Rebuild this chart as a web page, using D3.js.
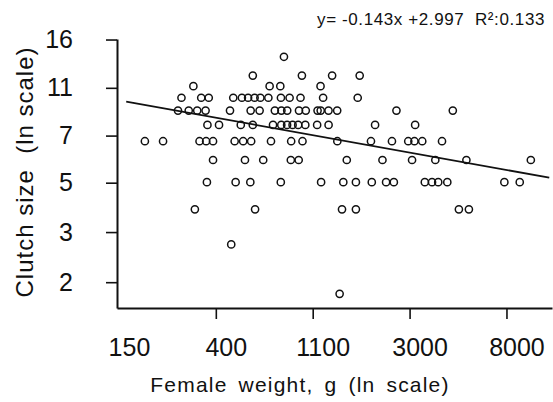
<!DOCTYPE html>
<html>
<head>
<meta charset="utf-8">
<script src="https://cdn.jsdelivr.net/npm/d3@7"></script>
<style>
  body { margin: 0; background: #fff; }
  text { font-family: "Liberation Sans", Arial, sans-serif; fill: #111; }
</style>
</head>
<body>
<svg id="svgScatter"></svg>
<script>
// [ --- data
// clutch size rows and the female weights (g) of the points on each row
var clutchLevels = [14, 12, 11, 10, 9, 8, 7, 6, 5, 4, 3, 2];
var weightsAtLevel = [
  [815],
  [591, 981, 1340, 1781],
  [320, 703, 785, 1189],
  [283, 347, 375, 483, 528, 563, 602, 639, 694, 790, 864, 967, 1221, 1745],
  [273, 305, 333, 363, 467, 578, 634, 742, 794, 843, 952, 1021, 1153, 1191, 1291, 1412, 2603, 4657],
  [370, 417, 522, 591, 728, 793, 842, 891, 944, 1016, 1148, 1292, 2088, 3157],
  [194, 234, 341, 365, 392, 490, 535, 581, 713, 878, 987, 1414, 2001, 2485, 2940, 3134, 3397, 4166],
  [392, 545, 658, 875, 949, 1559, 2253, 3058, 3888, 5358, 10421],
  [368, 495, 576, 789, 1196, 1504, 1713, 2018, 2339, 2534, 3489, 3758, 4006, 4400, 7929, 9293],
  [325, 605, 1484, 1713, 4959, 5498],
  [473],
  [1448]
];

// regression printed on the figure (ln clutch = slope * ln weight + intercept)
var fitSlope = -0.143;
var fitIntercept = 2.997;
var fitRange = [160, 12600];

// x ticks sit on whole ln units; y ticks are where the figure prints them
var xTickLn = [5, 6, 7, 8, 9];
var xTickLabels = ["150", "400", "1100", "3000", "8000"];
var yTickAt = [2.2, 3.32, 4.98, 7.33, 10.85, 16.13];
var yTickLabels = ["2", "3", "5", "7", "11", "16"];
// data ---]

var width = 553;
var height = 402;
var padLeft = 117, padRight = 552, padTop = 39, padBottom = 308;

var points = [];
clutchLevels.forEach(function(c, i){
  weightsAtLevel[i].forEach(function(w){
    points.push({weight: w, clutch: c});
  });
});

var xScale = d3.scaleLog()
                .domain([Math.exp(4.98), Math.exp(9.47)])
                .range([padLeft, padRight]);

var yScale = d3.scaleLog()
                .domain([1.78, 16.2])
                .range([padBottom, padTop]);

var svg = d3.select("#svgScatter")
              .attr("width", width)
              .attr("height", height);

svg.append("rect")
    .attr("width", width)
    .attr("height", height)
    .attr("fill", "#fff");

var xAxis = d3.axisBottom(xScale)
                .tickValues(xTickLn.map(Math.exp))
                .tickFormat(function(d, i){ return xTickLabels[i]; })
                .tickSizeInner(11)
                .tickSizeOuter(0)
                .tickPadding(19);

var yAxis = d3.axisLeft(yScale)
                .tickValues(yTickAt)
                .tickFormat(function(d, i){ return yTickLabels[i]; })
                .tickSizeInner(11)
                .tickSizeOuter(0)
                .tickPadding(33);

var gx = svg.append("g")
      .attr("transform", "translate(0," + padBottom + ")")
      .call(xAxis);

var gy = svg.append("g")
      .attr("transform", "translate(" + padLeft + ",0)")
      .call(yAxis);

[gx, gy].forEach(function(g){
  g.select(".domain")
      .attr("stroke", "#111")
      .attr("stroke-width", 2);
  g.selectAll(".tick line")
      .attr("stroke", "#111")
      .attr("stroke-width", 1.6);
  g.selectAll(".tick text")
      .style("font-family", "'Liberation Sans', Arial, sans-serif")
      .style("font-size", "25px")
      .attr("fill", "#111");
});

// no tick mark under 150, it sits on the corner; labels printed a bit right of the ticks
gx.selectAll(".tick line")
    .filter(function(d, i){ return i === 0; })
    .remove();
gx.selectAll(".tick text")
    .attr("dx", 10);

// regression line
var lineData = fitRange.map(function(w){
  return {weight: w, clutch: Math.exp(fitSlope * Math.log(w) + fitIntercept)};
});

svg.append("path")
    .datum(lineData)
    .attr("fill", "none")
    .attr("stroke", "#111")
    .attr("stroke-width", 1.8)
    .attr("d", d3.line()
                  .x(d => xScale(d.weight))
                  .y(d => yScale(d.clutch)));

svg.append("g")
  .selectAll("circle")
  .data(points)
  .enter()
  .append("circle")
    .attr("cx", d => xScale(d.weight))
    .attr("cy", d => yScale(d.clutch))
    .attr("r", 3.6)
    .attr("fill", "none")
    .attr("stroke", "#111")
    .attr("stroke-width", 1.5);

svg.append("text")
    .attr("x", 300)
    .attr("y", 392)
    .style("text-anchor", "middle")
    .style("font-size", "21px")
    .style("letter-spacing", "1.2px")
    .style("word-spacing", "4px")
    .text("Female weight, g (ln scale)");

svg.append("text")
    .attr("transform", "translate(33,172) rotate(-90)")
    .style("text-anchor", "middle")
    .style("font-size", "24px")
    .style("letter-spacing", "1px")
    .style("white-space", "pre")
    .text("Clutch size  (ln scale)");

svg.append("text")
    .attr("x", 545)
    .attr("y", 25)
    .style("text-anchor", "end")
    .style("font-size", "17px")
    .style("letter-spacing", "0.6px")
    .style("white-space", "pre")
    .text("y= -0.143x +2.997  R\u00b2:0.133");
</script>
</body>
</html>
